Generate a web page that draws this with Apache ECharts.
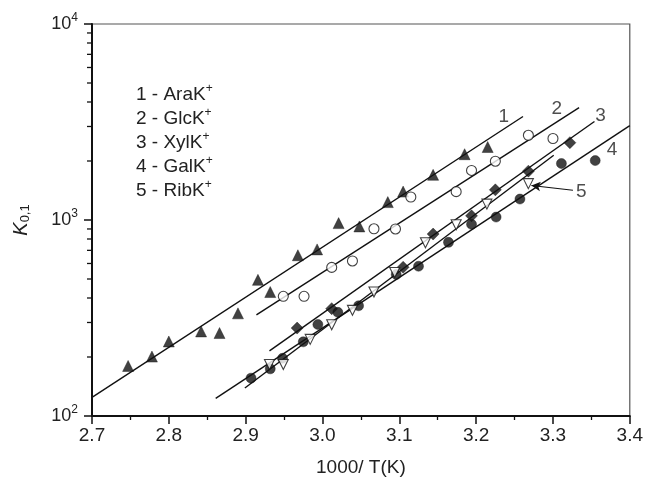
<!DOCTYPE html>
<html><head><meta charset="utf-8">
<script src="https://cdn.jsdelivr.net/npm/echarts@6/dist/echarts.min.js"></script>
<style>html,body{margin:0;padding:0;background:#fff}#c{width:646px;height:482px}</style>
</head><body><div id="c"></div>
<script>
// ---- data ----
const araX = [2.747,2.778,2.800,2.842,2.866,2.890,2.916,2.932,2.968,2.993,3.021,3.048,3.085,3.105,3.144,3.185,3.215];
const araY = [180,201,240,270,265,334,495,429,661,708,964,927,1234,1396,1700,2166,2357];
const glcX = [2.949,2.976,3.012,3.039,3.067,3.095,3.115,3.174,3.194,3.225,3.268,3.300];
const glcY = [408,408,573,618,902,900,1310,1395,1790,1995,2705,2605];
const xylX = [2.967,3.012,3.105,3.144,3.194,3.225,3.268,3.322];
const xylY = [281,353,574,848,1050,1425,1775,2480];
const galX = [2.907,2.932,2.948,2.975,2.994,3.020,3.047,3.096,3.125,3.164,3.194,3.226,3.257,3.311,3.355];
const galY = [156,174,197,239,293,338,365,527,581,769,951,1035,1279,1942,2010];
const ribX = [2.931,2.949,2.984,3.012,3.039,3.067,3.094,3.134,3.174,3.214,3.268];
const ribY = [183,183,246,292,346,429,540,765,946,1205,1533];

const line1X = [2.700,3.261], line1Y = [124.5,3373];
const line2X = [2.914,3.334], line2Y = [328,3743];
const line3X = [2.931,3.354], line3Y = [215,3180];
const line4X = [2.861,3.400], line4Y = [123,3030];
const line5X = [2.899,3.301], line5Y = [139,2140];

const lineLabelText = ['1','2','3','4','5'];
const lineLabelX = [3.236,3.305,3.362,3.377,3.337];
const lineLabelY = [3357,3673,3396,2270,1400];
const arrowFrom = [3.326,1419], arrowTo = [3.272,1500];

const legendNums = ['1','2','3','4','5'];
const legendNames = ['AraK','GlcK','XylK','GalK','RibK'];

const xTicks = [2.7,2.8,2.9,3.0,3.1,3.2,3.3,3.4];
const yMajor = [100,1000,10000];
const yMinorTicks = [200,300,400,500,600,700,800,900,2000,3000,4000,5000,6000,7000,8000,9000];

// ---- chart ----
const FONT = 'Liberation Sans, Arial, Helvetica, sans-serif';
const INK = '#111';
const zip = (a,b) => a.map((v,i)=>[v,b[i]]);
const chart = echarts.init(document.getElementById('c'), null, {renderer:'canvas'});

function fitLine(xs, ys) {
  return {type:'line', data: zip(xs, ys), showSymbol:false, symbol:'none', silent:true,
    lineStyle:{color:INK, width:1.4}, z:2, animation:false};
}
function pts(xs, ys, symbol, size, filled, rotate) {
  return {type:'scatter', data: zip(xs, ys), symbol, symbolSize:size, symbolRotate: rotate||0,
    itemStyle: filled ? {color:INK, borderColor:INK, borderWidth:0.5} : {color:'#fff', borderColor:INK, borderWidth:1.1},
    z:4, animation:false, silent:true};
}

const option = {
  animation:false,
  backgroundColor:'#fff',
  grid:{left:92, right:15, top:24, bottom:60, show:true, borderColor:'#555', borderWidth:1.2, backgroundColor:'transparent'},
  xAxis:{type:'value', min:2.7, max:3.4, interval:0.1,
    axisLine:{show:true, onZero:false, lineStyle:{color:INK, width:2}},
    axisTick:{show:true, inside:false, length:8, lineStyle:{color:INK, width:1.5}},
    minorTick:{show:true, splitNumber:2, length:4, lineStyle:{color:INK, width:1.3}},
    splitLine:{show:false},
    axisLabel:{margin:10, fontFamily:FONT, fontSize:19, color:'#222',
      formatter: v => { const t = xTicks.find(k => Math.abs(k - v) < 1e-6); return t === undefined ? '' : t.toFixed(1); }},
    name:'1000/ T(K)', nameLocation:'middle', nameGap:42,
    nameTextStyle:{fontFamily:FONT, fontSize:19, color:'#222'}
  },
  yAxis:{type:'log', logBase:10, min:100, max:10000,
    axisLine:{show:true, onZero:false, lineStyle:{color:INK, width:2}},
    axisTick:{show:true, inside:false, length:8, lineStyle:{color:INK, width:1.5}},
    splitLine:{show:false},
    axisLabel:{margin:14, fontFamily:FONT, color:'#222',
      formatter: v => yMajor.includes(Math.round(v)) ? '{b|10}{s|' + Math.round(Math.log10(v)) + '}' : '',
      rich:{b:{fontFamily:FONT, fontSize:18, lineHeight:24, color:'#222'},
            s:{fontFamily:FONT, fontSize:12, lineHeight:12, verticalAlign:'top', color:'#222'}}},
    name:'{k|K}{sub|0,1}', nameLocation:'middle', nameGap:60, nameRotate:90,
    nameTextStyle:{rich:{k:{fontFamily:FONT, fontStyle:'italic', fontSize:20, lineHeight:22, color:'#222'},
                         sub:{fontFamily:FONT, fontSize:13, lineHeight:12, verticalAlign:'bottom', color:'#222'}}}
  },
  graphic:[{type:'text', left:136, top:83, z:10,
    style:{text: legendNums.map((n,i)=>'{a|' + n + ' - ' + legendNames[i] + '}{s|+}').join('\n'),
      rich:{a:{fontFamily:FONT, fontSize:19, lineHeight:24, fill:'#222', color:'#222'},
            s:{fontFamily:FONT, fontSize:12, lineHeight:12, verticalAlign:'top', fill:'#222', color:'#222'}}}}],
  series:[
    fitLine(line1X, line1Y),
    fitLine(line2X, line2Y),
    fitLine(line3X, line3Y),
    fitLine(line4X, line4Y),
    Object.assign(fitLine(line5X, line5Y), {
      markLine:{silent:true, symbol:['none','arrow'], symbolSize:[7,9], animation:false,
        lineStyle:{color:INK, width:1.1, type:'solid'}, label:{show:false},
        data:[[{coord:arrowFrom},{coord:arrowTo}]]}}),
    pts(araX, araY, 'triangle', 11, true),
    pts(glcX, glcY, 'circle', 10, false),
    pts(xylX, xylY, 'diamond', 12, true),
    pts(galX, galY, 'circle', 10, true),
    pts(ribX, ribY, 'triangle', 10, false, 180),
    {type:'custom', coordinateSystem:'cartesian2d', data: yMinorTicks.map(v=>[2.7, v]), clip:false, silent:true, z:5,
      renderItem:(params, api) => {
        const p = api.coord([api.value(0), api.value(1)]);
        return {type:'line', shape:{x1:p[0]-5, y1:p[1], x2:p[0], y2:p[1]}, style:{stroke:INK, lineWidth:1.3}};
      }},
    {type:'scatter', data: lineLabelX.map((x,i)=>({value:[x, lineLabelY[i]], name:lineLabelText[i]})),
      symbolSize:0, silent:true, z:6,
      label:{show:true, position:'inside', formatter: p => p.name, fontFamily:FONT, fontSize:19, color:'#222'}}
  ]
};
chart.setOption(option);
</script></body></html>
